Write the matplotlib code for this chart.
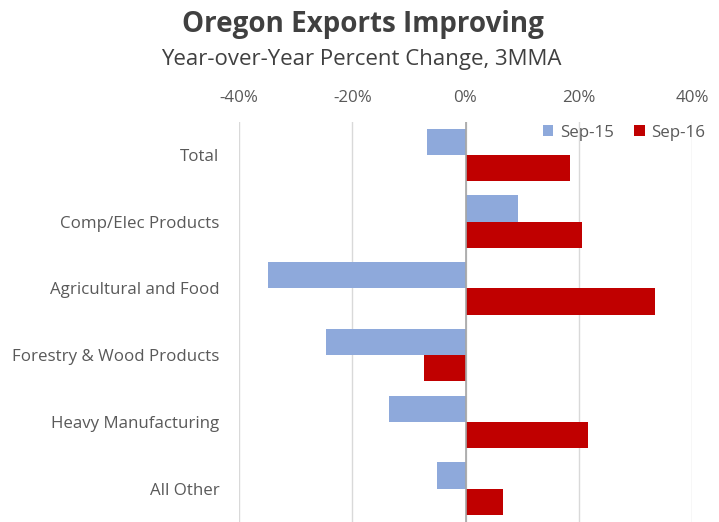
import matplotlib
matplotlib.use("Agg")
import matplotlib.pyplot as plt
import numpy as np

categories = ["Total", "Comp/Elec Products", "Agricultural and Food",
              "Forestry & Wood Products", "Heavy Manufacturing", "All Other"]
sep15 = [-6.8, 9.2, -34.8, -24.7, -13.5, -5.1]
sep16 = [18.5, 20.6, 33.5, -7.3, 21.7, 6.7]
series_names = ["Sep-15", "Sep-16"]
xticks = [-40, -20, 0, 20, 40]
xtick_labels = ["-40%", "-20%", "0%", "20%", "40%"]

plt.rcParams['font.family'] = ['Open Sans', 'DejaVu Sans']
txt = "#595959"

fig = plt.figure(figsize=(7.19, 5.22), dpi=100)
ax = fig.add_axes([239/719, 0.0, (692-239)/719, 1 - 121.6/522])

y = np.arange(len(categories))
h = 0.394
ax.barh(y - h/2, sep15, height=h, color="#8EA9DB", label=series_names[0], zorder=3)
ax.barh(y + h/2, sep16, height=h, color="#C00000", label=series_names[1], zorder=3)

ax.set_ylim(len(categories) - 0.5, -0.5)
ax.set_xlim(-40, 40)
ax.set_xticks(xticks)
ax.set_xticklabels(xtick_labels)
ax.xaxis.tick_top()
ax.tick_params(axis='x', length=0, pad=11, labelsize=12.2, labelcolor=txt)
ax.set_yticks(y)
ax.set_yticklabels(categories)
ax.tick_params(axis='y', length=0, pad=14, labelsize=12.2, labelcolor=txt)
for s in ax.spines.values():
    s.set_visible(False)
ax.grid(axis='x', color="#d9d9d9", linewidth=1, zorder=0)
ax.axvline(0, color="#a6a6a6", linewidth=1.2, zorder=4)

leg = ax.legend(loc="upper right", bbox_to_anchor=(1.063, 1.03), ncol=2, frameon=False,
                fontsize=12.2, handlelength=0.6, handleheight=0.6, handletextpad=0.4,
                columnspacing=1.2, labelcolor=txt)

fig.text(0.505, 0.953, "Oregon Exports Improving", ha="center", va="center",
         fontsize=20, fontweight="bold", color="#404040")
fig.text(0.503, 0.886, "Year-over-Year Percent Change, 3MMA", ha="center", va="center",
         fontsize=16, color="#404040")

fig.savefig("out.png", dpi=100)
